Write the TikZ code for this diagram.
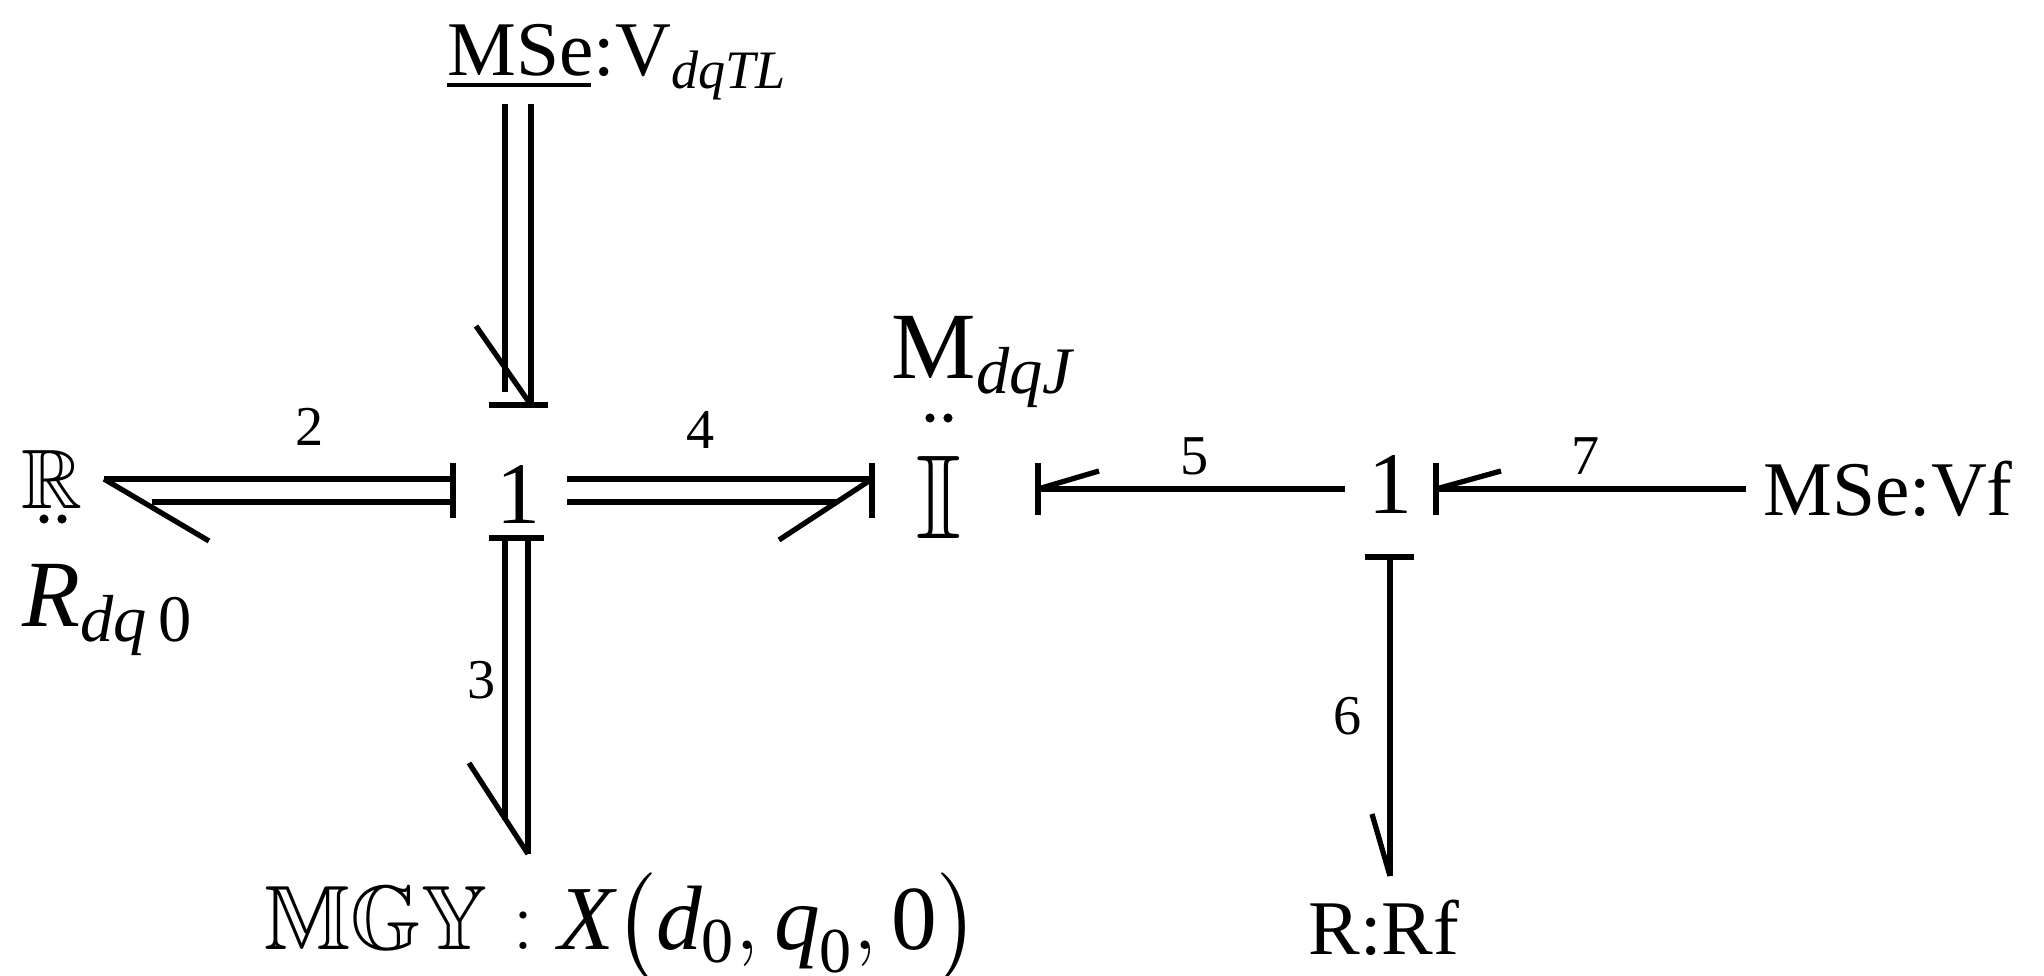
\documentclass[tikz,border=0pt]{standalone}
\usepackage{amsmath,amssymb}
\usepackage{fontspec}
\setmainfont{Liberation Serif}
\begin{document}
\begin{tikzpicture}[x=0.01cm,y=-0.01cm,
  bond/.style={line width=1.5pt},
  lbl/.style={font=\fontsize{16}{18}\selectfont,inner sep=0pt},
  el/.style={font=\fontsize{22}{24}\selectfont,inner sep=0pt},
  jn/.style={font=\fontsize{25}{27}\selectfont,inner sep=0pt},
  dot/.style={circle,fill=black,inner sep=0pt,minimum size=2.6pt}]
\useasboundingbox (0,0) rectangle (2044,976);
% elements
\node[jn] (j1) at (518,494) {1};
\node[jn] (j2) at (1390,484) {1};
\node[el,anchor=base west] (mse) at (447,76) {MSe:V\textsubscript{\textit{dqTL}}};
\draw[line width=1.1pt] (447,85) -- (591,85);
\node[el,font=\fontsize{24}{26}\selectfont] (R) at (52,479) {$\mathbb{R}$};
\node[dot] (Rd1) at (44,519) {}; \node[dot] (Rd2) at (62,519) {};
\node[el,font=\fontsize{27}{30}\selectfont,anchor=west] (Rlab) at (22,610) {\textit{R}\textsubscript{\textit{dq}\,0}};
\node[el,font=\fontsize{34}{36}\selectfont] (I) at (939,497) {$\mathbb{I}$};
\node[dot] (Id1) at (930,418) {}; \node[dot] (Id2) at (948,418) {};
\node[el,font=\fontsize{27}{30}\selectfont,anchor=west] (Ilab) at (891,362) {M\textsubscript{\textit{dqJ}}};
\node[el,font=\fontsize{26}{29}\selectfont] (mgy) at (622,928) {$\mathbb{MGY}:\textit{X}\big(\textit{d}_{\text{0}},\textit{q}_{\text{0}},\text{0}\big)$};
\node[el] (vf) at (1888,489) {MSe:Vf};
\node[el] (rf) at (1384,928) {R:Rf};
% named bond end points
\coordinate (t1) at (505,104); \coordinate (t2) at (531,104);
\coordinate (b1t) at (531,405);
\coordinate (r2) at (104,479); \coordinate (l2) at (453,479);
\coordinate (l4) at (567,479); \coordinate (r4) at (872,479);
\coordinate (u3) at (528,538); \coordinate (d3) at (528,854);
\coordinate (l5) at (1038,489); \coordinate (r5) at (1345,489);
\coordinate (l7) at (1436,489); \coordinate (r7) at (1746,489);
\coordinate (u6) at (1390,557); \coordinate (d6) at (1390,876);
% bond 1 (top)
\draw[bond] (t1) -- (505,392);
\draw[bond] (t2) -- (b1t);
\draw[bond] (476,326) -- (b1t);
\draw[bond] (489,405) -- (548,405);
% bond 2
\draw[bond] (r2) -- (l2);
\draw[bond] (152,502) -- (453,502);
\draw[bond] (r2) -- (209,541);
\draw[bond] (453,463) -- (453,518);
\node[lbl] (n2) at (310,427) {2};
% bond 4
\draw[bond] (l4) -- (r4);
\draw[bond] (567,502) -- (836,502);
\draw[bond] (r4) -- (779,540);
\draw[bond] (872,463) -- (872,518);
\node[lbl] (n4) at (701,430) {4};
% bond 3
\draw[bond] (505,538) -- (505,820);
\draw[bond] (u3) -- (d3);
\draw[bond] (d3) -- (469,763);
\draw[bond] (489,538) -- (544,538);
\node[lbl] (n3) at (482,680) {3};
% bond 5
\draw[bond] (l5) -- (r5);
\draw[bond] (l5) -- (1099,471);
\draw[bond] (1038,463) -- (1038,515);
\node[lbl] (n5) at (1195,456) {5};
% bond 7
\draw[bond] (l7) -- (r7);
\draw[bond] (l7) -- (1501,471);
\draw[bond] (1436,463) -- (1436,515);
\node[lbl] (n7) at (1586,456) {7};
% bond 6
\draw[bond] (u6) -- (d6);
\draw[bond] (d6) -- (1372,814);
\draw[bond] (1365,557) -- (1414,557);
\node[lbl] (n6) at (1348,716) {6};
\end{tikzpicture}
\end{document}
